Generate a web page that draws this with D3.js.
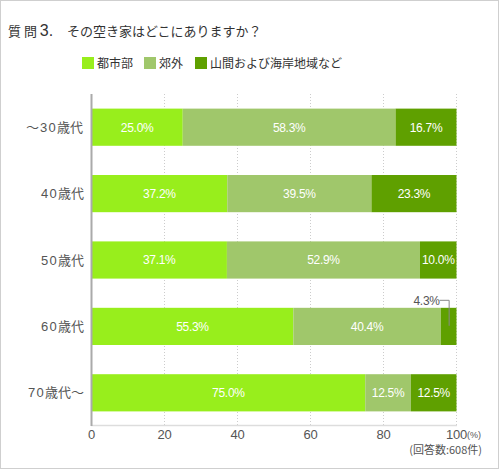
<!DOCTYPE html>
<html><head><meta charset="utf-8">
<script src="https://cdn.jsdelivr.net/npm/d3@7"></script>
<style>
html,body{margin:0;padding:0;background:#fff;}
svg{display:block;font-family:"Liberation Sans","Noto Sans CJK JP",sans-serif;}
</style></head>
<body>
<svg id="chart" width="500" height="470"></svg>
<script>
const categories = ["～30歳代", "40歳代", "50歳代", "60歳代", "70歳代～"];
const seriesNames = ["都市部", "郊外", "山間および海岸地域など"];
const urban = [25.0, 37.2, 37.1, 55.3, 75.0];
const suburb = [58.3, 39.5, 52.9, 40.4, 12.5];
const mountain = [16.7, 23.3, 10.0, 4.3, 12.5];
const xTicks = [0, 20, 40, 60, 80, 100];
const colors = ["#98ee1c", "#a0c76b", "#5fa000"];

const svg = d3.select("#chart");
svg.append("rect").attr("x",0.5).attr("y",0.5).attr("width",498).attr("height",468)
  .attr("fill","#fff").attr("stroke","#cfcfcf");

// Title
const title = svg.append("text").attr("x",8).attr("y",36).attr("fill","#333")
  .style("font-family","'Noto Sans CJK JP',sans-serif");
title.append("tspan").attr("font-size",13).text("質 問 ");
title.append("tspan").attr("font-size",16).style("font-family","'Liberation Sans',sans-serif").text("3.");
svg.append("text").attr("x",67).attr("y",36).attr("fill","#333").attr("font-size",13)
  .style("font-family","'Noto Sans CJK JP',sans-serif").text("その空き家はどこにありますか？");

// Legend
const legX = [82, 144, 195];
seriesNames.forEach((n,i)=>{
  svg.append("rect").attr("x",legX[i]).attr("y",57).attr("width",12).attr("height",12).attr("fill",colors[i]);
  svg.append("text").attr("x",legX[i]+15).attr("y",67.5).attr("font-size",12).attr("fill","#333")
    .style("font-family","'Noto Sans CJK JP',sans-serif").text(n);
});

const x = d3.scaleLinear().domain([0,100]).range([91.5,456.5]);
const y = d3.scaleBand().domain(categories).range([94,426]).paddingInner(0.44).paddingOuter(0.22);

// gridlines
svg.append("g").selectAll("line").data(xTicks.filter(d=>d>0)).join("line")
  .attr("x1",d=>x(d)).attr("x2",d=>x(d)).attr("y1",94).attr("y2",426)
  .attr("stroke","#cccccc").attr("stroke-dasharray","1,2");

// data table + stack
const table = categories.map((c,i)=>({cat:c, s0:urban[i], s1:suburb[i], s2:mountain[i]}));
const stack = d3.stack().keys(["s0","s1","s2"])(table);

const g = svg.append("g");
stack.forEach((layer,li)=>{
  g.append("g").selectAll("rect").data(layer).join("rect")
    .attr("x",d=>x(d[0])).attr("width",d=>x(d[1])-x(d[0]))
    .attr("y",d=>y(d.data.cat)).attr("height",y.bandwidth())
    .attr("fill",colors[li]);
});
// labels inside bars
stack.forEach((layer,li)=>{
  g.append("g").selectAll("text").data(layer.filter(d=>d[1]-d[0]>=8)).join("text")
    .attr("x",d=>(x(d[0])+x(d[1]))/2).attr("y",d=>y(d.data.cat)+y.bandwidth()/2)
    .attr("dy","0.36em").attr("text-anchor","middle").attr("font-size",12).attr("fill","#fff")
    .attr("letter-spacing","-0.3")
    .text(d=>(d[1]-d[0]).toFixed(1)+"%");
});
// small segment annotation
stack[2].filter(d=>d[1]-d[0]<8).forEach(d=>{
  const cx = (x(d[0])+x(d[1]))/2;
  const top = y(d.data.cat);
  svg.append("path").attr("d",`M${cx-9},${top-7.5}H${cx+0.5}V${top+18}`)
    .attr("fill","none").attr("stroke","#888").attr("stroke-width",1);
  svg.append("text").attr("x",cx-9).attr("y",top-2.5).attr("text-anchor","end")
    .attr("font-size",12).attr("fill","#555").attr("letter-spacing","-0.3")
    .text((d[1]-d[0]).toFixed(1)+"%");
});

// axes lines
svg.append("line").attr("x1",91).attr("x2",457).attr("y1",425.5).attr("y2",425.5)
  .attr("stroke","#dddddd").attr("stroke-width",1.5);
svg.append("line").attr("x1",91.5).attr("x2",91.5).attr("y1",94).attr("y2",426)
  .attr("stroke","#aaaaaa").attr("stroke-width",2);

// category labels: digits spaced out, CJK glyphs in Noto
const catG = svg.append("g").selectAll("text").data(categories).join("text")
  .attr("x",83).attr("y",d=>y(d)+y.bandwidth()/2).attr("dy","0.36em")
  .attr("text-anchor","end").attr("font-size",13).attr("fill","#555");
catG.each(function(d){
  const t = d3.select(this);
  const parts = d.match(/[0-9]+|[^0-9]+/g);
  parts.forEach(p=>{
    const isNum = /^[0-9]+$/.test(p);
    const ts = t.append("tspan").text(p);
    if(isNum){ ts.attr("letter-spacing","1.2").attr("dx","1"); }
    else { ts.style("font-family","'Noto Sans CJK JP',sans-serif"); }
  });
});

// x tick labels
svg.append("g").selectAll("text").data(xTicks).join("text")
  .attr("x",d=>x(d)).attr("y",438.5).attr("text-anchor","middle")
  .attr("font-size",13).attr("fill","#555").attr("letter-spacing","-0.3").text(d=>d);
svg.append("text").attr("x",467).attr("y",438).attr("font-size",9).attr("fill","#555").text("(%)");
svg.append("text").attr("x",482).attr("y",454).attr("text-anchor","end").attr("font-size",11)
  .attr("fill","#555").style("font-family","'Noto Sans CJK JP',sans-serif").text("(回答数:608件)");
</script>
</body></html>
